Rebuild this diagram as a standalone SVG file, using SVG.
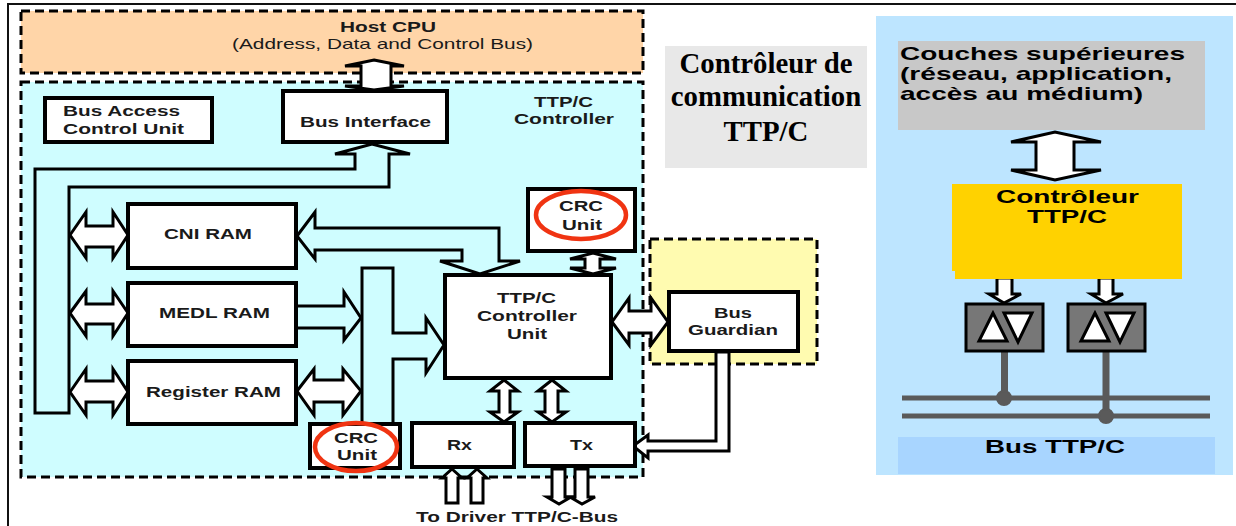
<svg xmlns="http://www.w3.org/2000/svg" width="1236" height="526" viewBox="0 0 1236 526">
<style>
text{font-family:"Liberation Sans",Arial,sans-serif;fill:#1a1a1a;font-size:15px;font-weight:bold}
.n{font-weight:normal}
.k{fill:#000;font-size:19px}
.t{font-family:"Liberation Serif","Times New Roman",serif;font-size:28.800px;fill:#000;text-anchor:middle}
.b{fill:#fff;stroke:#000;stroke-width:4}
.a{fill:#fff;stroke:#000;stroke-width:3;stroke-linejoin:miter}
.c{fill:#cffdff;stroke:#000;stroke-width:3;stroke-linejoin:miter}
.r{fill:none;stroke:#f03412;stroke-width:4.500}
.d{stroke:#000;stroke-width:3;stroke-dasharray:9 5}
.g{fill:#777;stroke:#000;stroke-width:3}
.tr{fill:#fff;stroke:#000;stroke-width:3}
.s{stroke:#5a5a5a;fill:none}
</style>
<rect width="1236" height="526" fill="#fff"/>
<path d="M8 526V4H1236" fill="none" stroke="#111" stroke-width="2"/>
<g id="host-cpu">
<rect x="21" y="11" width="622" height="62" fill="#ffd5a8" class="d"/>
<text x="340" y="32" textLength="96" lengthAdjust="spacingAndGlyphs">Host CPU</text>
<text class="n" x="232" y="49" textLength="301" lengthAdjust="spacingAndGlyphs">(Address, Data and Control Bus)</text>
</g>
<g id="ttpc-controller">
<rect x="21" y="82" width="622" height="395" fill="#cffdff" class="d"/>
<text x="534" y="107" textLength="59" lengthAdjust="spacingAndGlyphs">TTP/C</text>
<text x="514" y="124" textLength="100" lengthAdjust="spacingAndGlyphs">Controller</text>
</g>
<g id="bus-guardian-zone"><rect x="650" y="239" width="167" height="125" fill="#fffbb0" class="d"/></g>
<g id="title">
<rect x="665" y="46" width="202" height="122" fill="#e8e8e8"/>
<text class="t" x="766" y="73">Contrôleur de</text>
<text class="t" x="766" y="106">communication</text>
<text class="t" x="766" y="141">TTP/C</text>
</g>
<g id="right-panel"><rect x="876" y="16" width="357" height="459" fill="#bde5ff"/></g>
<g id="connectors">
<path class="a" d="M374 60L404 66H391V86H404L374 90L345 86H361V66H345Z"/>
<path class="c" d="M355 154H335L372 144L410 154H389V187H69V413H35V169H355Z"/>
<path class="a" d="M70 235L86 212V226H113V212L128 235L113 258V247H86V258Z"/>
<path class="a" d="M70 313L86 291V304H113V291L128 313L113 336V324H86V336Z"/>
<path class="a" d="M70 392L86 369V381H113V369L128 392L113 415V402H86V415Z"/>
<path class="c" d="M297 236L315 212V228H499V261H520L480 274L440 261H462V250H315V259Z"/>
<path class="a" d="M593 253L616 259H600V268H616L593 274L570 268H585V259H570Z"/>
<path class="c" d="M362 268H393V333H426V318L444 345L426 373V359H393V424H362Z"/>
<path class="c" d="M296 306H344V292L361 318L344 340V328H296Z"/>
<path class="a" d="M297 391L314 369V380H343V369L361 391L343 415V402H314V415Z"/>
<path class="a" d="M612 322L629 298V311H651V298L668 322L651 345V333H629V345Z"/>
<path class="a" d="M504 380L518 391H510V412H518L504 422L490 412H499V391H490Z"/>
<path class="a" d="M552 380L566 391H558V412H566L552 422L538 412H545V391H538Z"/>
<path class="a" d="M716 352V441H648V435L633 446L648 458V451H729V352Z"/>
<path class="a" d="M452 469L462 478H458V503H446V478H442Z"/>
<path class="a" d="M477 469L487 478H483V503H471V478H467Z"/>
<path class="a" d="M552 469H565V497H571L559 504L547 497H552Z"/>
<path class="a" d="M575 469H588V497H595L582 504L570 497H575Z"/>
<path class="a" d="M1036 142H1011L1055 132L1101 142H1074V170H1101L1055 180L1011 170H1036Z"/>
<path class="a" d="M997 278H1012V294H1021L1004 303L989 294H997Z"/>
<path class="a" d="M1099 278H1113V294H1123L1106 303L1091 294H1099Z"/>
<g class="s">
<path stroke-width="7" d="M1004.500 351V397M1106 351V416"/>
<path stroke-width="5" d="M902 398H1210M902 416H1210"/>
<circle cx="1004" cy="398" r="7" fill="#5a5a5a" stroke-width="2"/>
<circle cx="1106" cy="416" r="7" fill="#5a5a5a" stroke-width="2"/>
</g>
</g>
<g id="bus-access-control-unit">
<rect class="b" x="45" y="98" width="167" height="44"/>
<text x="63" y="116" textLength="117" lengthAdjust="spacingAndGlyphs">Bus Access</text>
<text x="63" y="134" textLength="121" lengthAdjust="spacingAndGlyphs">Control Unit</text>
</g>
<g id="bus-interface">
<rect class="b" x="283" y="91" width="164" height="51"/>
<text x="300" y="127" textLength="131" lengthAdjust="spacingAndGlyphs">Bus Interface</text>
</g>
<g id="cni-ram">
<rect class="b" x="128" y="204" width="168" height="64"/>
<text x="164" y="239" textLength="88" lengthAdjust="spacingAndGlyphs">CNI RAM</text>
</g>
<g id="medl-ram">
<rect class="b" x="128" y="283" width="168" height="63"/>
<text x="159" y="318" textLength="111" lengthAdjust="spacingAndGlyphs">MEDL RAM</text>
</g>
<g id="register-ram">
<rect class="b" x="128" y="361" width="168" height="63"/>
<text x="146" y="397" textLength="135" lengthAdjust="spacingAndGlyphs">Register RAM</text>
</g>
<g id="crc-unit-top">
<rect class="b" x="528" y="189" width="107" height="62"/>
<ellipse class="r" cx="581" cy="215" rx="45" ry="24"/>
<text x="559" y="211" textLength="44" lengthAdjust="spacingAndGlyphs">CRC</text>
<text x="562" y="230" textLength="40" lengthAdjust="spacingAndGlyphs">Unit</text>
</g>
<g id="ttpc-controller-unit">
<rect class="b" x="445" y="275" width="166" height="103"/>
<text x="497" y="303" textLength="59" lengthAdjust="spacingAndGlyphs">TTP/C</text>
<text x="477" y="321" textLength="100" lengthAdjust="spacingAndGlyphs">Controller</text>
<text x="507" y="339" textLength="40" lengthAdjust="spacingAndGlyphs">Unit</text>
</g>
<g id="bus-guardian">
<rect class="b" x="669" y="292" width="129" height="59"/>
<text x="714" y="318" textLength="38" lengthAdjust="spacingAndGlyphs">Bus</text>
<text x="688" y="335" textLength="90" lengthAdjust="spacingAndGlyphs">Guardian</text>
</g>
<g id="crc-unit-bottom">
<rect class="b" x="310" y="424" width="90" height="44"/>
<ellipse class="r" cx="356" cy="447" rx="41" ry="24"/>
<text x="334" y="443" textLength="44" lengthAdjust="spacingAndGlyphs">CRC</text>
<text x="337" y="460" textLength="40" lengthAdjust="spacingAndGlyphs">Unit</text>
</g>
<g id="rx">
<rect class="b" x="412" y="423" width="102" height="44"/>
<text x="447" y="450" textLength="25" lengthAdjust="spacingAndGlyphs">Rx</text>
</g>
<g id="tx">
<rect class="b" x="525" y="423" width="110" height="43"/>
<text x="570" y="450" textLength="23" lengthAdjust="spacingAndGlyphs">Tx</text>
</g>
<g id="to-driver-label"><text x="416" y="522" textLength="202" lengthAdjust="spacingAndGlyphs">To Driver TTP/C-Bus</text></g>
<g id="couches-superieures">
<rect x="898" y="41" width="307" height="89" fill="#c8c8c8"/>
<text class="k" x="900" y="60" textLength="285" lengthAdjust="spacingAndGlyphs">Couches supérieures</text>
<text class="k" x="900" y="80" textLength="272" lengthAdjust="spacingAndGlyphs">(réseau, application,</text>
<text class="k" x="900" y="100" textLength="243" lengthAdjust="spacingAndGlyphs">accès au médium)</text>
</g>
<g id="controleur-ttpc">
<path fill="#ffd200" d="M952 184H1182V279H955V271H952Z"/>
<text class="k" x="996" y="203" textLength="143" lengthAdjust="spacingAndGlyphs">Contrôleur</text>
<text class="k" x="1027" y="223" textLength="80" lengthAdjust="spacingAndGlyphs">TTP/C</text>
</g>
<g id="transceiver-1">
<rect class="g" x="966" y="304" width="77" height="47"/>
<path class="tr" d="M993 313L979 341H1007Z"/>
<path class="tr" d="M1004 313H1032L1018 342Z"/>
</g>
<g id="transceiver-2">
<rect class="g" x="1068" y="304" width="77" height="47"/>
<path class="tr" d="M1095 313L1081 341H1109Z"/>
<path class="tr" d="M1106 313H1134L1120 342Z"/>
</g>
<g id="bus-ttpc">
<rect x="898" y="437" width="317" height="37" fill="#a8d5ff"/>
<text class="k" x="985" y="453" textLength="140" lengthAdjust="spacingAndGlyphs">Bus TTP/C</text>
</g>
</svg>
